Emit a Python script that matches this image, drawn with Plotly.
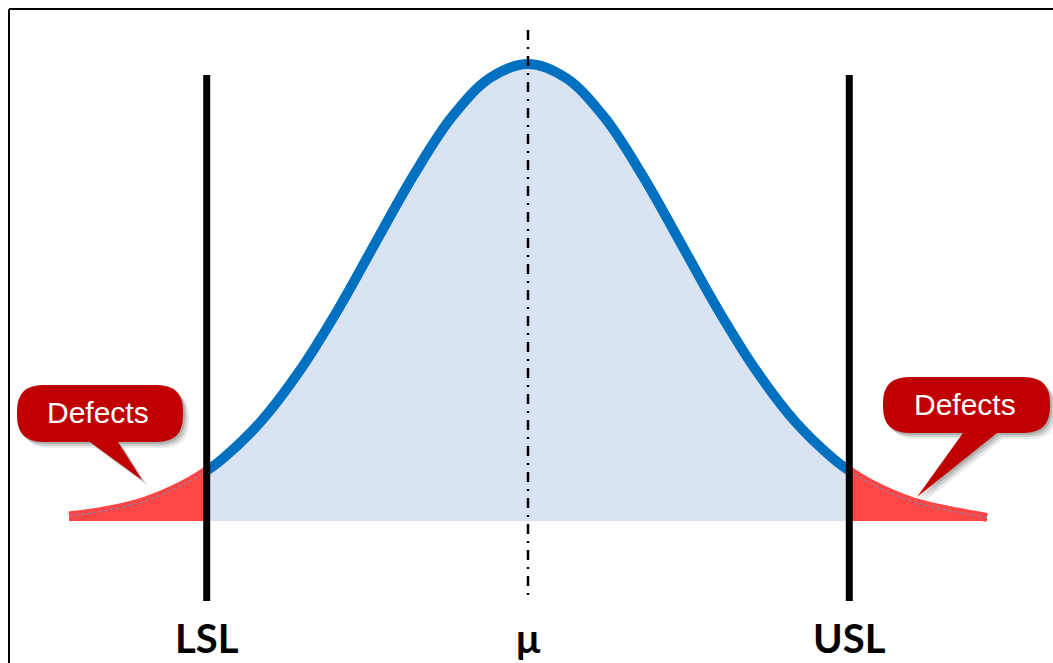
import plotly.graph_objects as go

# ---- data (z in sigma units, relative height of curve) ----
z_center = [-2.1, -2.0, -1.75, -1.5, -1.25, -1.0, -0.75, -0.5, -0.25, 0.0,
            0.25, 0.5, 0.75, 1.0, 1.25, 1.5, 1.75, 2.0, 2.1]
h_center = [0.110, 0.135, 0.216, 0.325, 0.458, 0.607, 0.755, 0.883, 0.969, 1.000,
            0.969, 0.883, 0.755, 0.607, 0.458, 0.325, 0.216, 0.135, 0.110]
z_left_tail = [-3.0, -2.75, -2.5, -2.25, -2.1]
h_left_tail = [0.011, 0.023, 0.044, 0.080, 0.110]
z_right_tail = [2.1, 2.25, 2.5, 2.75, 3.0]
h_right_tail = [0.110, 0.080, 0.044, 0.023, 0.008]
spec_positions = [-2.1, 0.0, 2.1]
spec_labels = ["LSL", "μ", "USL"]
callout_text = ["Defects", "Defects"]

# ---- pixel <-> data helpers (layout only) ----
W, H = 1053, 663
MU_PX, SIG_PX = 528.0, 153.0
BASE_PX, PEAK_PX = 521.0, 457.0


def X(px):
    return (px - MU_PX) / SIG_PX


def Y(py):
    return (BASE_PX - py) / PEAK_PX


fig = go.Figure()

# blue filled area
fig.add_trace(go.Scatter(x=z_center, y=h_center, mode="lines", fill="tozeroy",
                         fillcolor="#DAE3F1", line=dict(width=0, shape="spline"),
                         hoverinfo="skip", showlegend=False))
# red tails
for zz, hh in [(z_left_tail, h_left_tail), (z_right_tail, h_right_tail)]:
    fig.add_trace(go.Scatter(x=zz, y=hh, mode="lines", fill="tozeroy",
                             fillcolor="#FF4646",
                             line=dict(width=9, color="#FF4646", shape="spline"),
                             hoverinfo="skip", showlegend=False))
    fig.add_trace(go.Scatter(x=zz, y=hh, mode="lines",
                             line=dict(width=1, color="#5B9BD5", dash="dot", shape="spline"),
                             hoverinfo="skip", showlegend=False))
# blue curve
fig.add_trace(go.Scatter(x=z_center, y=h_center, mode="lines",
                         line=dict(width=10, color="#0070C0", shape="spline"),
                         hoverinfo="skip", showlegend=False))
# spec limit lines
for xv in (spec_positions[0], spec_positions[2]):
    fig.add_trace(go.Scatter(x=[xv, xv], y=[Y(75), Y(601)], mode="lines",
                             line=dict(width=7, color="black"),
                             hoverinfo="skip", showlegend=False))
# mean line
fig.add_trace(go.Scatter(x=[spec_positions[1]] * 2, y=[Y(30), Y(598)], mode="lines",
                         line=dict(width=2.5, color="black", dash="10px,7px,2px,7px"),
                         hoverinfo="skip", showlegend=False))

# labels under lines
for xv, lab in zip(spec_positions, spec_labels):
    fig.add_annotation(x=xv, y=Y(H), xref="x", yref="y", text="<b>%s</b>" % lab,
                       showarrow=False, font=dict(family="Lato", size=40, color="black"),
                       xanchor="center", yanchor="bottom", borderpad=0)


def P(pts):
    out = []
    for p in pts:
        if isinstance(p, str):
            out.append(p)
        else:
            out.append("%.5f,%.5f" % (X(p[0]), Y(p[1])))
    return " ".join(out)


def callout_path(x0, y0, x1, y1, r, tb1, tb2, tip, dx=0, dy=0):
    x0 += dx; x1 += dx; y0 += dy; y1 += dy; tb1 += dx; tb2 += dx
    tip = (tip[0] + dx, tip[1] + dy)
    return P(["M", (x0 + r, y0), "L", (x1 - r, y0), "Q", (x1, y0), (x1, y0 + r),
              "L", (x1, y1 - r), "Q", (x1, y1), (x1 - r, y1),
              "L", (tb2, y1), "L", tip, "L", (tb1, y1),
              "L", (x0 + r, y1), "Q", (x0, y1), (x0, y1 - r),
              "L", (x0, y0 + r), "Q", (x0, y0), (x0 + r, y0), "Z"])


callouts = [
    dict(box=(17, 385, 183, 442), tb=(90, 118), tip=(142, 480), txt=(98, 412)),
    dict(box=(883, 377, 1050, 433), tb=(963, 997), tip=(917, 497), txt=(965, 404)),
]
shapes = []
for c, t in zip(callouts, callout_text):
    x0, y0, x1, y1 = c["box"]
    for (d, a) in [(6, 0.08), (4, 0.12), (2, 0.15)]:
        shapes.append(dict(type="path", xref="x", yref="y",
                           path=callout_path(x0, y0, x1, y1, 26, c["tb"][0], c["tb"][1], c["tip"], d, d),
                           fillcolor="rgba(0,0,0,%.2f)" % a, line=dict(width=0)))
    shapes.append(dict(type="path", xref="x", yref="y",
                       path=callout_path(x0, y0, x1, y1, 26, c["tb"][0], c["tb"][1], c["tip"]),
                       fillcolor="#C00000", line=dict(width=0)))
    fig.add_annotation(x=X(c["txt"][0]), y=Y(c["txt"][1]), xref="x", yref="y", text=t,
                       showarrow=False, font=dict(family="Liberation Sans", size=30, color="white"),
                       xanchor="center", yanchor="middle")

# frame lines (top and left)
shapes.append(dict(type="line", xref="paper", yref="paper", x0=9 / W, x1=1, y0=1 - 9 / H, y1=1 - 9 / H,
                   line=dict(color="black", width=2)))
shapes.append(dict(type="line", xref="paper", yref="paper", x0=9 / W, x1=9 / W, y0=0, y1=1 - 9 / H,
                   line=dict(color="black", width=2)))

fig.update_layout(
    width=W, height=H, margin=dict(l=0, r=0, t=0, b=0),
    paper_bgcolor="white", plot_bgcolor="white", showlegend=False,
    xaxis=dict(range=[X(0), X(W)], visible=False, fixedrange=True),
    yaxis=dict(range=[Y(H), Y(0)], visible=False, fixedrange=True),
    shapes=shapes,
)
fig.write_html("out.html")
